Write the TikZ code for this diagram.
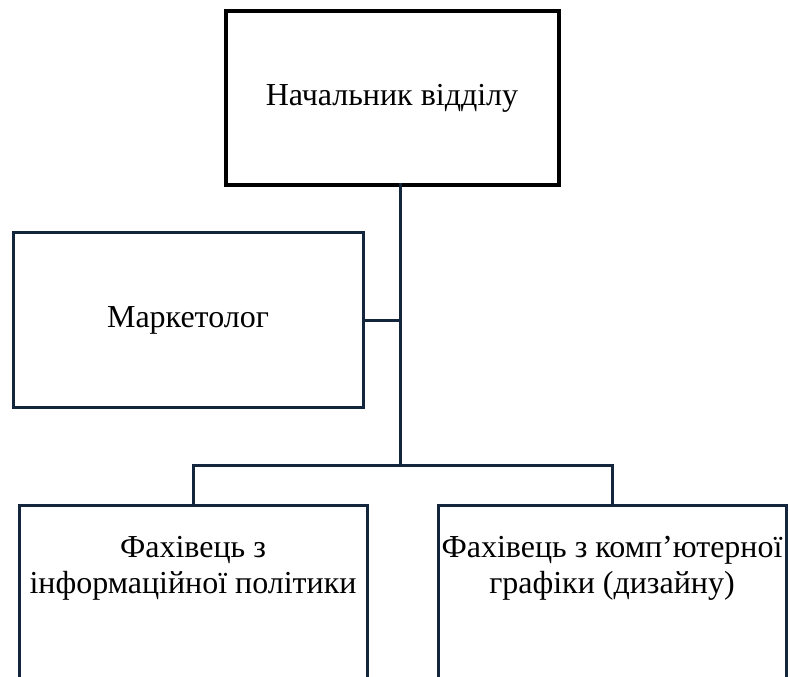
\documentclass[tikz,border=0pt]{standalone}
\usepackage{fontspec}
\IfFontExistsTF{Liberation Serif}{\setmainfont{Liberation Serif}}{\setmainfont{DejaVu Serif}}
\definecolor{navy}{HTML}{13263D}
\tikzset{
  bigtext/.style={font=\rmfamily\fontsize{32}{36}\selectfont, align=center, inner sep=0pt},
  headbox/.style={draw=black, line width=4pt, minimum width=333pt, minimum height=173pt, inner sep=0pt},
  navybox/.style={draw=navy, line width=3pt, inner sep=0pt},
  conn/.style={draw=navy, line width=3pt}
}
\begin{document}
\begin{tikzpicture}[x=1pt,y=-1pt]
\useasboundingbox (0,0) rectangle (790,677);
\node[headbox, bigtext] (top) at (392,98) {Начальник відділу};
\node[navybox, bigtext, minimum width=350pt, minimum height=175pt] (mkt) at (188,320) {Маркетолог};
\node[navybox, minimum width=348pt, minimum height=200pt] (c1) at (193,605) {};
\node[navybox, minimum width=348pt, minimum height=200pt] (c2) at (612,605) {};
\node[bigtext] (t1) at (193,568) {Фахівець з\\інформаційної політики};
\node[bigtext] (t2) at (612,568) {Фахівець з комп’ютерної\\графіки (дизайну)};
\coordinate (trunk) at (400,183);
\coordinate (j) at (400,465);
\draw[conn] (trunk) -- (j);
\draw[conn] (mkt.east) -- (mkt.east -| j);
\draw[conn] (c1.north) |- (j) -| (c2.north);
\end{tikzpicture}
\end{document}
